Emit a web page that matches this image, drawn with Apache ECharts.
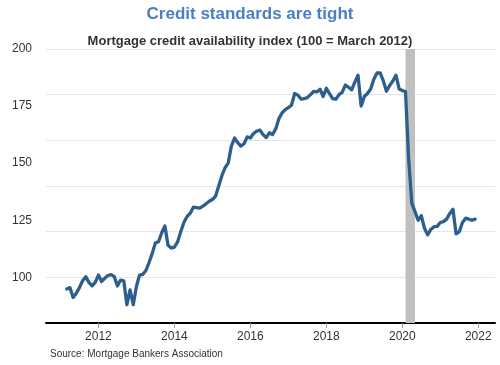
<!DOCTYPE html>
<html>
<head>
<meta charset="utf-8">
<script src="https://cdn.jsdelivr.net/npm/echarts@6/dist/echarts.min.js"></script>
<style>
html,body{margin:0;padding:0;background:#fff;}
#chart{width:500px;height:365px;}
</style>
</head>
<body>
<div id="chart"></div>
<script>
// First month of the series (year, month 1-12); one value per month after that
var startYear = 2011;
var startMonth = 3;
var mcaiValues = [
  94.9, 95.5, 91.2, 93.0, 95.5, 98.5, 100.3, 97.8, 96.3, 97.8,
  101.0, 98.2, 99.6, 100.8, 101.2, 100.3, 96.2, 98.8, 98.5, 88.0,
  94.5, 88.0, 96.0, 101.0, 101.3, 103.0, 106.5, 110.5, 115.1, 115.6,
  119.5, 122.5, 114.0, 112.8, 113.2, 115.5, 120.0, 124.0, 126.6, 128.1,
  130.7, 130.5, 130.3, 131.2, 132.2, 133.3, 134.1, 135.5, 140.0, 144.5,
  148.0, 150.0, 157.5, 161.0, 159.0, 157.5, 158.5, 161.5, 161.0, 163.0,
  164.0, 164.5, 162.5, 161.2, 163.3, 162.5, 165.0, 169.5, 172.0, 173.4,
  174.3, 175.5, 180.5, 179.8, 178.1, 178.3, 178.7, 180.0, 181.4, 181.2,
  182.4, 179.2, 182.8, 180.5, 178.3, 178.0, 180.0, 181.0, 184.2, 183.3,
  182.1, 185.5, 188.5, 175.0, 179.2, 180.5, 182.5, 186.8, 189.5, 189.5,
  186.0, 181.5, 184.0, 186.0, 188.5, 182.5, 181.8, 181.4, 152.0, 132.5,
  128.8, 125.0, 127.0, 121.5, 118.6, 121.0, 122.2, 122.3, 124.0, 124.4,
  125.5, 128.0, 129.8, 119.0, 120.0, 124.0, 125.9, 125.5, 125.0, 125.5
];
var yearTicks = [2012, 2014, 2016, 2018, 2020, 2022];
var yTicks = [100, 125, 150, 175, 200];
var recession = [2020 + 1/12, 2020 + 4/12];

var seriesData = mcaiValues.map(function (v, i) {
  var mIndex = (startMonth - 1) + i;
  return [startYear + mIndex / 12, v];
});

var chart = echarts.init(document.getElementById('chart'), null, {renderer: 'canvas'});
var font = 'Liberation Sans, Arial, sans-serif';
chart.setOption({
  animation: false,
  backgroundColor: '#ffffff',
  title: [
    {
      text: 'Credit standards are tight',
      left: 'center', top: 1,
      textStyle: {color: '#4a7fc1', fontSize: 17, fontWeight: 'bold', fontFamily: font}
    },
    {
      text: 'Mortgage credit availability index (100 = March 2012)',
      left: 'center', top: 30,
      textStyle: {color: '#333333', fontSize: 13, fontWeight: 'bold', fontFamily: font}
    },
    {
      text: 'Source: Mortgage Bankers Association',
      left: 45, top: 344,
      textStyle: {color: '#333333', fontSize: 10, fontWeight: 'normal', fontFamily: font}
    }
  ],
  grid: {left: 46, right: 5, top: 49, bottom: 42, containLabel: false},
  xAxis: {
    type: 'value',
    min: 2010.62, max: 2022.44,
    axisLine: {show: true, lineStyle: {color: '#000000', width: 2}},
    axisTick: {show: true, customValues: yearTicks, length: 5, lineStyle: {color: '#999999', width: 1}},
    axisLabel: {customValues: yearTicks, color: '#333333', fontSize: 12, fontFamily: font, margin: 8,
      formatter: function (v) { return String(Math.round(v)); }},
    splitLine: {show: false}
  },
  yAxis: {
    type: 'value',
    min: 80, max: 200,
    axisLine: {show: false},
    axisTick: {show: false},
    axisLabel: {customValues: yTicks, color: '#333333', fontSize: 12, fontFamily: font, margin: 14},
    splitLine: {show: true, lineStyle: {color: '#e6e6e6', width: 1}},
    interval: 20
  },
  series: [
    {
      type: 'line',
      data: seriesData,
      showSymbol: false,
      symbol: 'none',
      lineStyle: {color: '#2d5f8e', width: 3.3, join: 'round', cap: 'round'},
      z: 3,
      markArea: {
        silent: true,
        itemStyle: {color: '#c0c0c0'},
        data: [[{xAxis: recession[0]}, {xAxis: recession[1]}]],
        z: 1
      }
    }
  ]
});
</script>
</body>
</html>
